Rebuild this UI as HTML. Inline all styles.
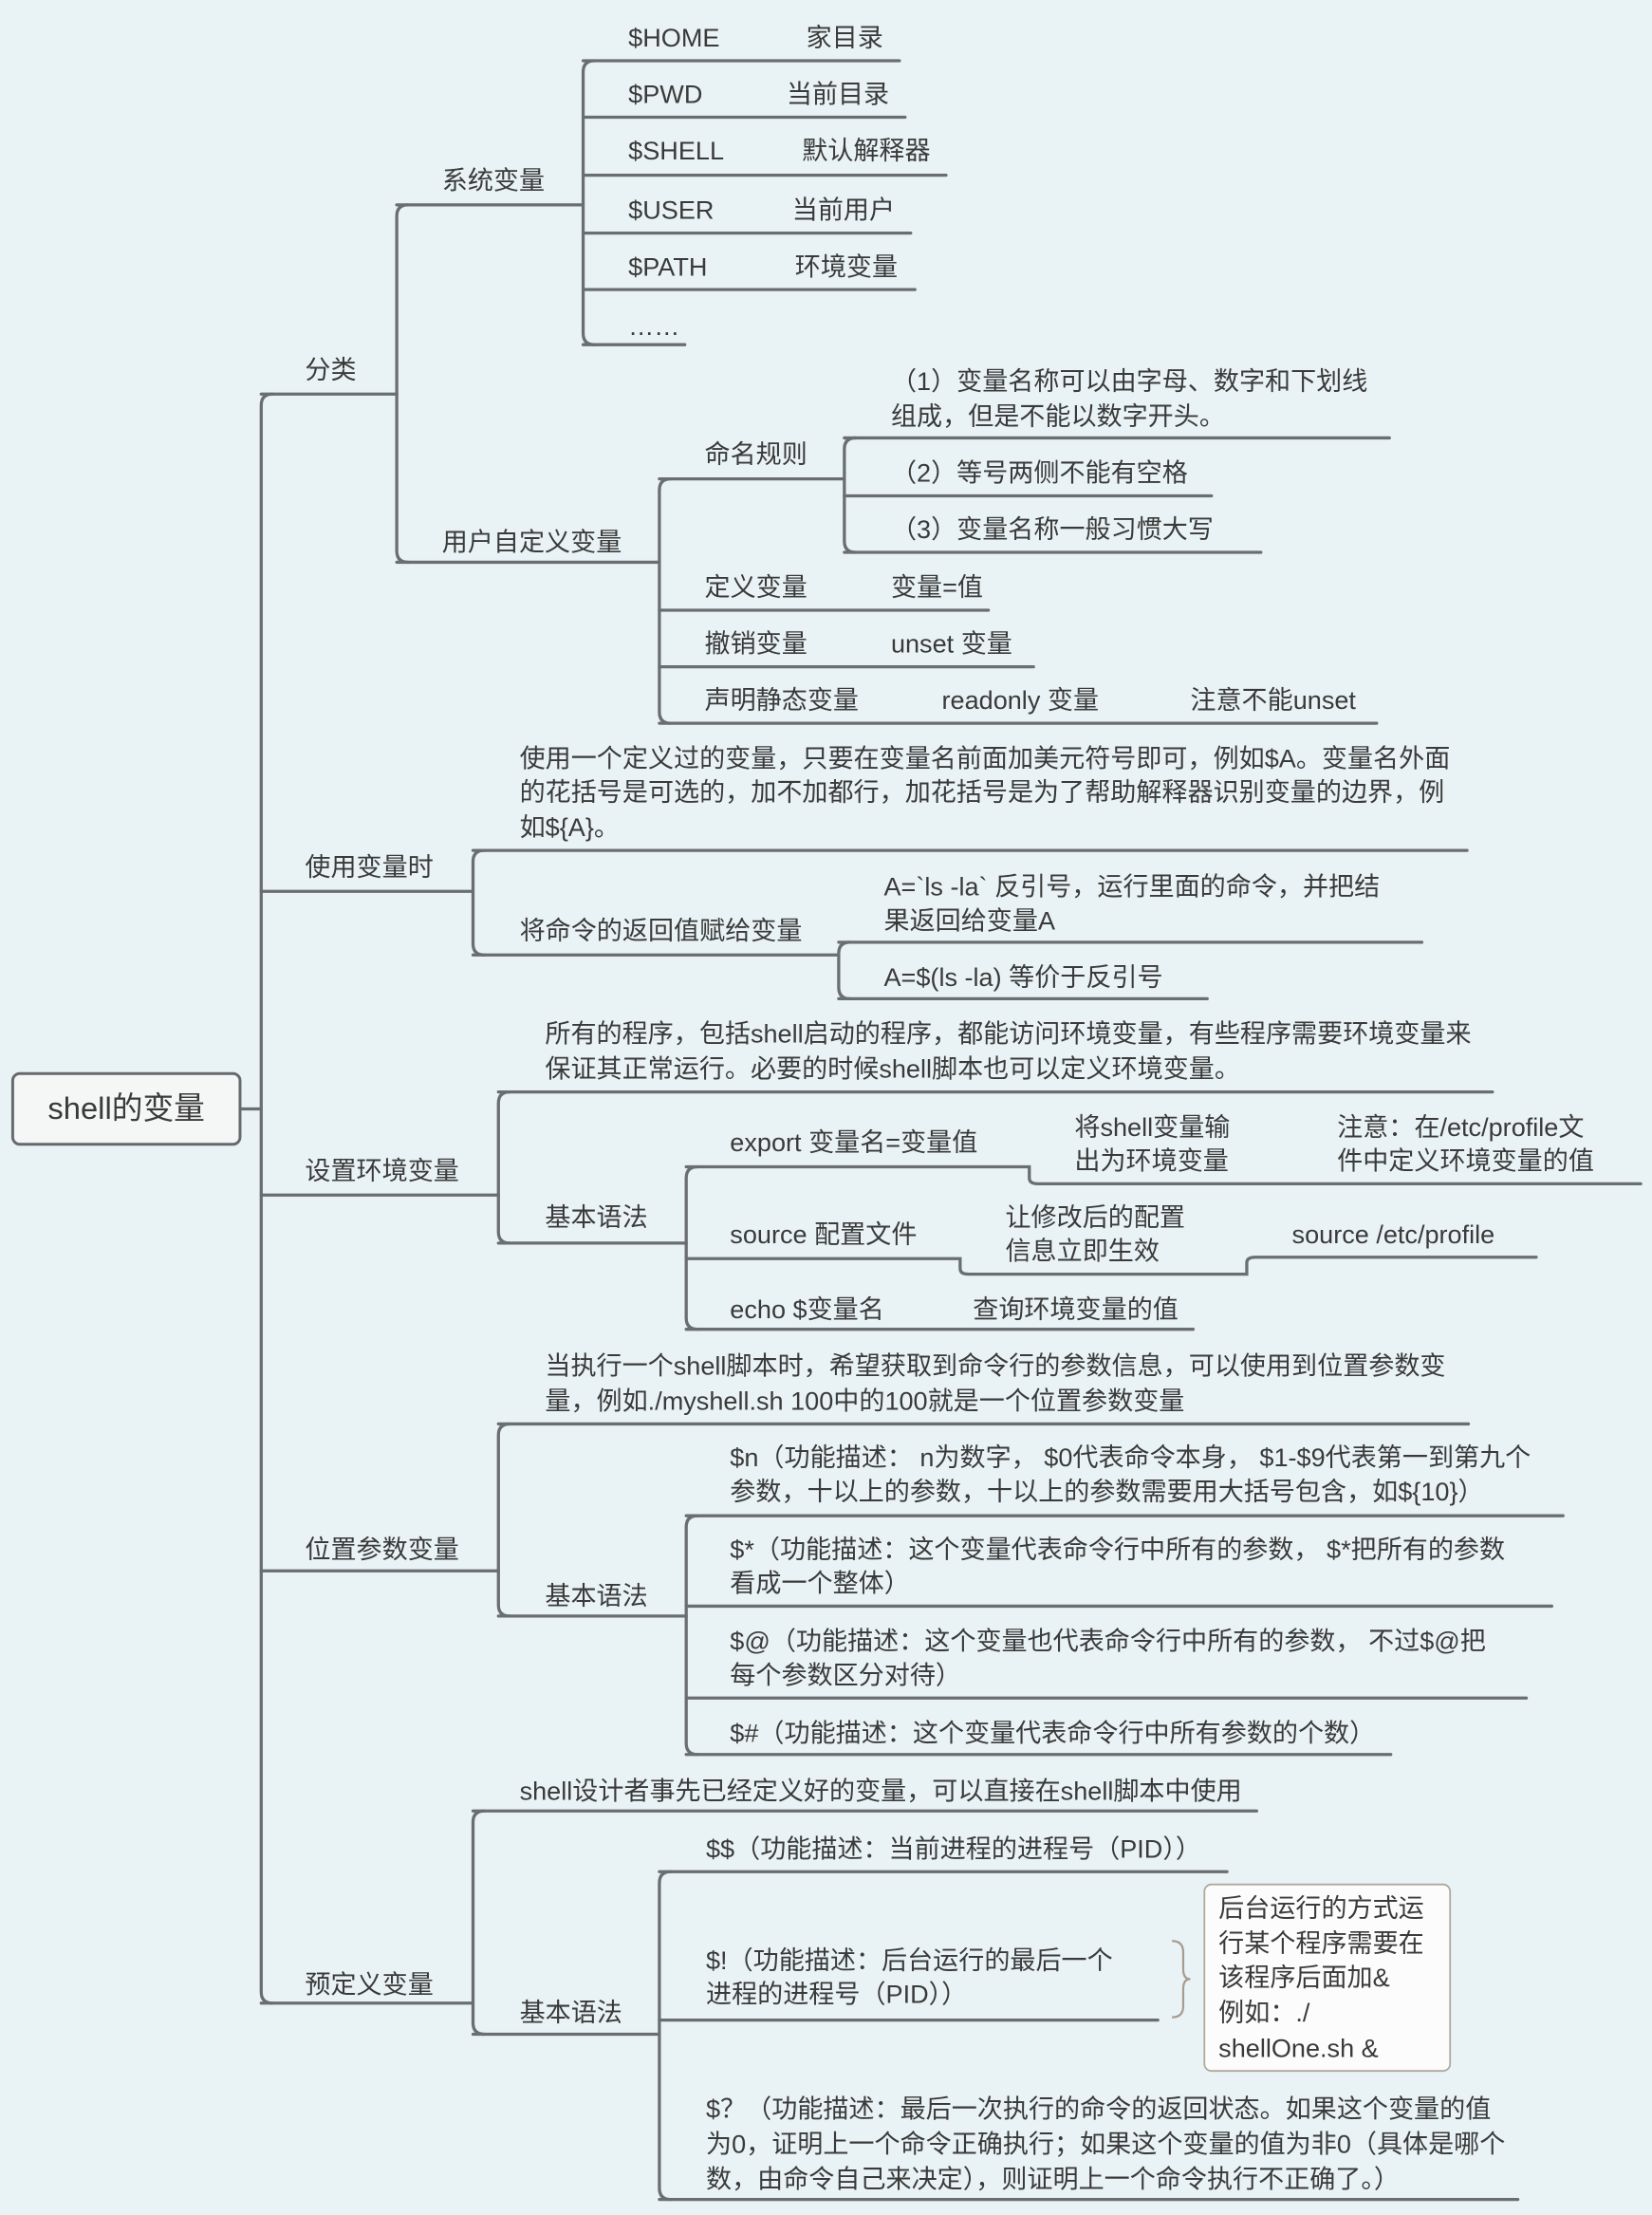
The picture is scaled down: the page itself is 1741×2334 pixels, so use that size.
<!DOCTYPE html>
<html><head><meta charset="utf-8"><style>
html,body{margin:0;padding:0;background:#e9f3f5;}
svg{display:block;}
text{font-family:"Liberation Sans","Noto Sans CJK SC",sans-serif;font-size:18.2px;fill:#3a3a3a;}
</style></head><body>
<svg width="1741" height="2334" viewBox="0 0 1170 1568" preserveAspectRatio="none" xmlns="http://www.w3.org/2000/svg">
<rect width="1170" height="1568" fill="#e9f3f5"/>
<g fill="none" stroke="#6a6e70" stroke-width="2.2" stroke-linecap="round">
<path d="M170,785 H185"/>
<path d="M193,279 Q185,279 185,287 V1410 Q185,1418 193,1418"/>
<path d="M185,279 H281"/><path d="M185,631 H335"/><path d="M185,846 H353"/><path d="M185,1112 H353"/><path d="M185,1418 H335"/>
<path d="M289,145 Q281,145 281,153 V390 Q281,398 289,398"/>
<path d="M281,145 H413"/><path d="M281,398 H467"/>
<path d="M421,43 Q413,43 413,51 V236 Q413,244 421,244"/>
<path d="M413,43 H637"/><path d="M413,83 H641"/><path d="M413,124 H670"/><path d="M413,165 H645"/><path d="M413,205 H648"/><path d="M413,244 H485"/>
<path d="M475,339 Q467,339 467,347 V504 Q467,512 475,512"/>
<path d="M467,339 H598"/><path d="M467,432 H700"/><path d="M467,472 H732"/><path d="M467,512 H975"/>
<path d="M606,310 Q598,310 598,318 V383 Q598,391 606,391"/>
<path d="M598,310 H984"/><path d="M598,351 H858"/><path d="M598,391 H893"/>
<path d="M343,602 Q335,602 335,610 V668 Q335,676 343,676"/>
<path d="M335,602 H1039"/><path d="M335,676 H594"/>
<path d="M602,667 Q594,667 594,675 V699 Q594,707 602,707"/>
<path d="M594,667 H1007"/><path d="M594,707 H855"/>
<path d="M361,773 Q353,773 353,781 V872 Q353,880 361,880"/>
<path d="M353,773 H1057"/><path d="M353,880 H486"/>
<path d="M494,826 Q486,826 486,834 V933 Q486,941 494,941"/>
<path d="M486,826 H729 V834 Q729,838 735,838 H1162"/>
<path d="M486,891 H680 V898 Q680,902 686,902 H883 V894 Q883,890 889,890 H1088"/>
<path d="M486,941 H845"/>
<path d="M361,1008 Q353,1008 353,1016 V1136 Q353,1144 361,1144"/>
<path d="M353,1008 H1040"/><path d="M353,1144 H486"/>
<path d="M494,1073 Q486,1073 486,1081 V1234 Q486,1242 494,1242"/>
<path d="M486,1073 H1107"/><path d="M486,1137 H1099"/><path d="M486,1202 H1081"/><path d="M486,1242 H985"/>
<path d="M343,1282 Q335,1282 335,1290 V1432 Q335,1440 343,1440"/>
<path d="M335,1282 H890"/><path d="M335,1440 H467"/>
<path d="M475,1325 Q467,1325 467,1333 V1549 Q467,1557 475,1557"/>
<path d="M467,1325 H869"/><path d="M467,1430 H820"/><path d="M467,1557 H1075"/>
</g>
<path d="M830,1374 Q838,1374 838,1382 V1394 Q838,1401 843,1401 Q838,1401 838,1408 V1420 Q838,1428 830,1428" fill="none" stroke="#a89c90" stroke-width="1.5"/>
<rect x="853" y="1334" width="174" height="132" rx="5" fill="#fcfcfc" stroke="#b0a89c" stroke-width="1.2"/>
<rect x="9" y="760" width="161" height="50" rx="5" fill="#f5f6f6" stroke="#666a6c" stroke-width="2"/>
<text x="89.5" y="792" text-anchor="middle" style="font-size:22px">shell的变量</text>
<text x="216" y="268">分类</text>
<text x="216" y="620">使用变量时</text>
<text x="216" y="835">设置环境变量</text>
<text x="216" y="1103">位置参数变量</text>
<text x="216" y="1411">预定义变量</text>
<text x="313" y="134">系统变量</text>
<text x="313" y="390">用户自定义变量</text>
<text x="445" y="33">$HOME</text><text x="571" y="33">家目录</text>
<text x="445" y="73">$PWD</text><text x="557" y="73">当前目录</text>
<text x="445" y="113">$SHELL</text><text x="568" y="113">默认解释器</text>
<text x="445" y="155">$USER</text><text x="561" y="155">当前用户</text>
<text x="445" y="195">$PATH</text><text x="563" y="195">环境变量</text>
<text x="445" y="237">……</text>
<text x="499" y="328">命名规则</text>
<text x="631" y="276">（1）变量名称可以由字母、数字和下划线</text>
<text x="631" y="301">组成，但是不能以数字开头。</text>
<text x="631" y="341">（2）等号两侧不能有空格</text>
<text x="631" y="381">（3）变量名称一般习惯大写</text>
<text x="499" y="422">定义变量</text><text x="631" y="422">变量=值</text>
<text x="499" y="462">撤销变量</text><text x="631" y="462">unset 变量</text>
<text x="499" y="502">声明静态变量</text><text x="667" y="502">readonly 变量</text><text x="843" y="502">注意不能unset</text>
<text x="368" y="543">使用一个定义过的变量，只要在变量名前面加美元符号即可，例如$A。变量名外面</text>
<text x="368" y="567">的花括号是可选的，加不加都行，加花括号是为了帮助解释器识别变量的边界，例</text>
<text x="368" y="592">如${A}。</text>
<text x="368" y="665">将命令的返回值赋给变量</text>
<text x="626" y="634">A=`ls -la` 反引号，运行里面的命令，并把结</text>
<text x="626" y="658">果返回给变量A</text>
<text x="626" y="698">A=$(ls -la) 等价于反引号</text>
<text x="386" y="738">所有的程序，包括shell启动的程序，都能访问环境变量，有些程序需要环境变量来</text>
<text x="386" y="763">保证其正常运行。必要的时候shell脚本也可以定义环境变量。</text>
<text x="386" y="868">基本语法</text>
<text x="517" y="815">export 变量名=变量值</text>
<text x="761" y="804">将shell变量输</text><text x="761" y="828">出为环境变量</text>
<text x="947" y="804">注意：在/etc/profile文</text><text x="947" y="828">件中定义环境变量的值</text>
<text x="517" y="880">source 配置文件</text>
<text x="712" y="868">让修改后的配置</text><text x="712" y="892">信息立即生效</text>
<text x="915" y="880">source /etc/profile</text>
<text x="517" y="933">echo $变量名</text><text x="689" y="933">查询环境变量的值</text>
<text x="386" y="973">当执行一个shell脚本时，希望获取到命令行的参数信息，可以使用到位置参数变</text>
<text x="386" y="998">量，例如./myshell.sh 100中的100就是一个位置参数变量</text>
<text x="386" y="1136">基本语法</text>
<text x="517" y="1038">$n（功能描述： n为数字， $0代表命令本身， $1-$9代表第一到第九个</text>
<text x="517" y="1062">参数，十以上的参数，十以上的参数需要用大括号包含，如${10}）</text>
<text x="517" y="1103">$*（功能描述：这个变量代表命令行中所有的参数， $*把所有的参数</text>
<text x="517" y="1127">看成一个整体）</text>
<text x="517" y="1168">$@（功能描述：这个变量也代表命令行中所有的参数， 不过$@把</text>
<text x="517" y="1192">每个参数区分对待）</text>
<text x="517" y="1233">$#（功能描述：这个变量代表命令行中所有参数的个数）</text>
<text x="368" y="1274">shell设计者事先已经定义好的变量，可以直接在shell脚本中使用</text>
<text x="368" y="1431">基本语法</text>
<text x="500" y="1315">$$（功能描述：当前进程的进程号（PID））</text>
<text x="500" y="1394">$!（功能描述：后台运行的最后一个</text>
<text x="500" y="1418">进程的进程号（PID））</text>
<text x="500" y="1499">$？（功能描述：最后一次执行的命令的返回状态。如果这个变量的值</text>
<text x="500" y="1524">为0，证明上一个命令正确执行；如果这个变量的值为非0（具体是哪个</text>
<text x="500" y="1549">数，由命令自己来决定），则证明上一个命令执行不正确了。）</text>
<text x="863" y="1357">后台运行的方式运</text>
<text x="863" y="1382">行某个程序需要在</text>
<text x="863" y="1406">该程序后面加&amp;</text>
<text x="863" y="1431">例如：./</text>
<text x="863" y="1456">shellOne.sh &amp;</text>
</svg>
</body></html>
